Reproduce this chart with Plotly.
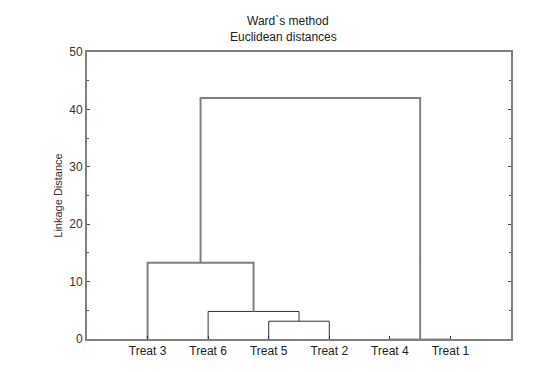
import plotly.graph_objects as go

# Leaf order along the x axis
leaves = ["Treat 3", "Treat 6", "Treat 5", "Treat 2", "Treat 4", "Treat 1"]
# Merges: (left member, right member, linkage distance); "C#" refers to earlier merge index
merge_left = ["Treat 5", "Treat 6", "Treat 3", "Treat 4", "C2"]
merge_right = ["Treat 2", "C0", "C1", "Treat 1", "C3"]
merge_height = [3.1, 4.8, 13.3, 0.0, 42.0]

title_lines = ["Ward`s method", "Euclidean distances"]
y_title = "Linkage Distance"

pos = {name: i + 1 for i, name in enumerate(leaves)}
hgt = {name: 0.0 for name in leaves}

fig = go.Figure()
for i, (a, b, h) in enumerate(zip(merge_left, merge_right, merge_height)):
    xa, xb = pos[a], pos[b]
    ya, yb = hgt[a], hgt[b]
    if h > 10:
        ln = dict(color="#808080", width=2)
    elif h == 0:
        ln = dict(color="#8a8a8a", width=1)
    else:
        ln = dict(color="#303030", width=1)
    fig.add_trace(go.Scatter(
        x=[xa, xa, xb, xb], y=[ya, h, h, yb], mode="lines",
        line=ln, hoverinfo="skip", showlegend=False))
    pos["C%d" % i] = (xa + xb) / 2
    hgt["C%d" % i] = h

# page body has an 8px margin, so the figure is offset by 8px
OFF = 8
FW, FH = 560 - OFF, 372 - OFF
L, R, T, B = 87 - OFF, 511 - OFF, 52 - OFF, 339 - OFF
W, H = R - L, B - T


def px(x):
    return (x - OFF - L) / W


def py(y):
    return (B - (y - OFF)) / H


fig.update_layout(
    width=FW, height=FH,
    margin=dict(l=L, r=FW - R, t=T, b=FH - B, autoexpand=False),
    plot_bgcolor="white", paper_bgcolor="white",
    font=dict(family="Liberation Sans, Arial", size=12, color="#333333"),
    xaxis=dict(range=[0, 7], tickmode="array", tickvals=list(range(1, len(leaves) + 1)),
               ticktext=leaves, showgrid=False, zeroline=False, showline=True,
               linecolor="#7f7f7f", linewidth=2, mirror=True, automargin=False,
               ticks="inside", ticklen=3, tickcolor="#333333",
               tickfont=dict(size=12, color="#222222")),
    yaxis=dict(range=[0, 50], tickmode="linear", tick0=0, dtick=10, showgrid=False,
               zeroline=False, showline=True, linecolor="#7f7f7f", linewidth=2,
               mirror="ticks", ticks="inside", ticklen=3, tickcolor="#444444",
               automargin=False,
               minor=dict(dtick=5, ticks="inside", ticklen=2, tickcolor="#555555"),
               tickfont=dict(size=12, color="#333333"),
               title=dict(text=y_title, font=dict(size=11, color="#3a3030"), standoff=4)),
    annotations=[
        dict(text=title_lines[0], x=px(288), y=py(21), xref="paper", yref="paper",
             xanchor="center", yanchor="middle", showarrow=False, font=dict(size=12, color="#222")),
        dict(text=title_lines[1], x=px(283), y=py(37), xref="paper", yref="paper",
             xanchor="center", yanchor="middle", showarrow=False, font=dict(size=12, color="#222")),
    ],
)
fig.write_html("out.html")
